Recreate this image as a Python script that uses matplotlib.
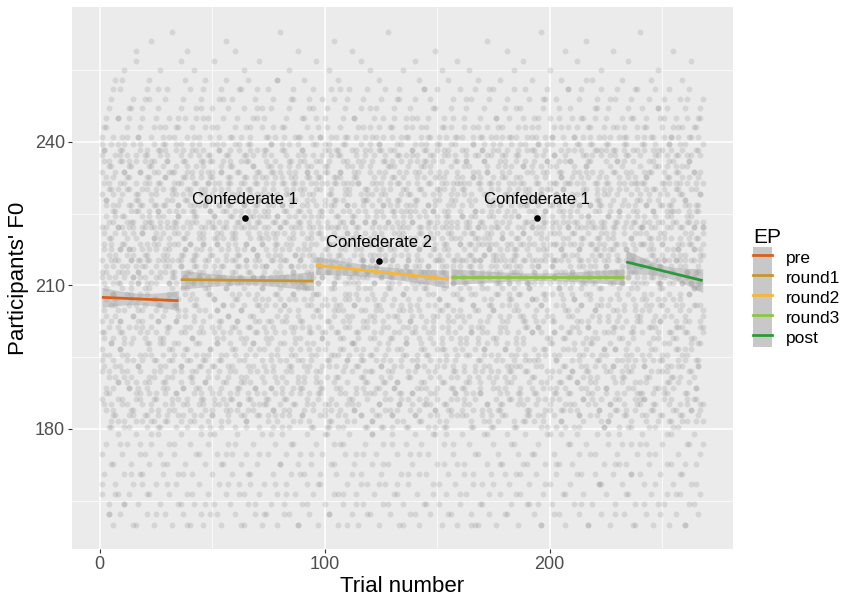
import numpy as np
import matplotlib
matplotlib.use("Agg")
import matplotlib.pyplot as plt
from matplotlib.lines import Line2D
from matplotlib.patches import Patch
from matplotlib.legend_handler import HandlerTuple

plt.rcParams['font.family'] = ['Liberation Sans', 'DejaVu Sans']

# per-trial F0 readings, one token per trial (trial 1, 2, 3, ...)
# digits -> 160-179 Hz, letters -> 180-240 Hz, symbols -> 241-263 Hz
LOW_KEYS = "0123456789"
MID_KEYS = "ABCDEFGHIJKLMNOPQRSTUVWXYZabcdefghijklmnopqrstuvwxyz"
HIGH_KEYS = "!@#$%^&*+=?~"
low_f0 = np.linspace(160, 179, len(LOW_KEYS))
mid_f0 = np.linspace(180.5, 239.5, len(MID_KEYS))
high_f0 = np.linspace(241, 263, len(HIGH_KEYS))

f0_group_a = [
    "qF3Tb!xMk7 Rw@jEy5Ng 8dUoZ#pHc Gv2sAl$Kr1 hP%eWi6Bz 0YnC^tDa!Q mL4uXf&Jb Sk9Ie#Vo3c",
    "Ox1gR^yTa Fq7Nd&mKw Jz5hB*sPu2 Ec!Ml8iY@r Wt3Ag#kHv Dn6Zo$Xe Uj0bQ%fCl4 Ip9Sx+wG=d",
    "Ha2Lq!cVn Kb5Ye@uFz8 Tr#Mj4gB$o Ck7Wd%sNx Pf1Rh^eAy Zl3Gm&tIv6 Nw8Ec!pS?a Bo0Xu@iJk",
    "Vg4Fr#bMq Am9Tn$hDy Qc2Kl*xWs7 Ie5Pv!oUj Gy1Bz%dL@t Rk6Hf^wCe Xi3Sg#aOn8 Jp0Mu~rEb",
    "Du7Nc!lYh Tz4Wa@kGq Fo2Vj#mPs5 Ks9Lx$eB+d Hn1Ci%yZf Ob6Uw&tRg Ml3Er=pA!v Sh8Jq^cXk0",
    "Ya5Qz@nIu Be2Gd*oTm Wy7Ks#fN$l Px4Hb!jVc Cr9Ft%gLa1 Ev0Ri^wMh Ik6Do@qZ&e Nu3Jp#sYb8",
    "Uf1Aw!xOn Gz5Sl$kCt Lc2Xm+dFr9 Qh7Vi@aPj Tb4Ey%oK!s Mq0Bg^vHu Rd6Wn#zIp Ze3Nk&fD?l",
    "Ja8Cx$rUo Fm2Ps!tGw Yi5Lb%cSv7 Oh1Ke@jA=n Dg9Tq#uXf Hl4Rz^yEd Vb0Ia!mQk6 Ct3Mo*pW$s",
    "Bw7Ne@hJx Gr2Dc&lYa Uk5Fq!zSi4 Pm8Lv#gEb Xn1Hd%oRt Ky6Wu$sC^f Aj3Tp+eOl Zq9Mi@bVh0",
    "Ic4Ex#nGy Rt1Kd!wQs Ff7Bo^kXm Hz2Na$vTe Lu5Sj%rD@p Wg8Ch!lJi Ob0Ym&qUa3 Ev6Pc~fMk",
    "Gs9Ao@tHz Dj2Rn!yWe Tl4Fb#xIq7 Cw1Vg$mL*u Np5Kh%dSo Ya8Ei^rBc Qk3Xf!sPt Mz0Jd=nUv6",
    "Hb7Oe!wGl Sy2Tj#qCa Ir5Dm&hZx Fo9Wc@uKp4 Bg1Ln$tR%f Xi6Av!dMs Pq3Uk^zEb Je8Nh+oY#w",
    "Vc0Gt@aSl Kn4Id!jHr5 Rf7Qx%bWm Dy2Cu#eOg Ms9Pk$iTv Aw1Ez*cLh Zo6Bq!nF^d Ut3Xj?sNa8",
    "Lp5Hm!yJe Cb0Ri&kVx Wg8Dt@fQu Ol2Ks#wAn3 Sh7Gz$cY!q Ed4Mv%oIj Nr9Ta^eXb Fm1Uy=lPs",
    "Bi6Wf#uDo Yk3Lc!hGt7 Qa0Xs@nRw Jz5Ce$vM+g He2Ob%pSd Vj8Ip!xKl Tq4Ar^mFc Gu1Ny*iZ@h",
    "Ds9Kw!eBo6 Xl3Qf#tUa Mc7Hd$rWn Pg0Ez@yC&k Rb5Vj%sLq Ao2Ti!wIm8 Ne4Yx^fGu Kh6Sc~lOp",
    "Fr1Zb@dJv Cn9Wa!kQe Ut3Lm#gH$y Is7Bo%xDc4 Ej0Rp^uVi Ow5Gz!hMf Yl2Nk*bSt Qd8Ax@nP#r",
    "Ke4Fv!cXs Wq1Ji$mTo7 Ga6Uh@yEl Sb9Cn%dR+z Hx3Mf#wLp Vk0Dg&rBu5 Pc8Oj!eIa Lt2Sv^qZn",
    "Zm5Ey@iHb Ao7Wk#lNd Jf1Qs!xC%u Rn4Tc$gYw3 Dh9Gb=oKp Uz6Le^aFj Mq2Xr!tVe Oi0Pw@kS*c",
    "Ex8Iy#nAh Ns3Bd!uMl9 Tg5Rm&fWo Cj1Hk@zD$q Yb7Va%eLr Kp4Oi!cGx Fw0Ul+sJt6 Sc2Zn^hQd",
    "Hm9Ct!oXe Lr6Ej@vK#b Qa3Gw$lPy Ik8Ns*dUf Bq1Yh%mRc We5Az!tDj4 Vn0Fp^xOg Mu7Sb@kJ&i",
    "Gl2Tr#eHs Dy4Kc!nZa Oz9Li$fBw Rx6Pu@hE?q Ub1Jg%oWm3 Cs5Xd!jNk Ap8Ve^yIt Ff0Qh#lM!c",
    "Ka7Bn@rYv Se3Do&cGz Ej6Wx!uTi Ht1Om$wCd5 Pq9Rk%gL=y Xb4Fs#aUl Nv2Ih!eKo Zc8Mf*pJ^n",
    "Ld5Qw!tAg Gm0Vy@iRx7 Yo3Uc$hFb Tk6Pj#sE+v Bz9Ne^lSq Wa2Ka!oDu Ci4Zr%fMh Ry7Hl&dX@k",
    "Jn1Gp#wOc Ex5Tb!jVm Mg8Sd@zCs2 Ir0Lq~aWe Oh3Yu$kB%l Fc6Xn!tNy Qw9Ai^gUp Dv4Jo#rH*f",
    "Ue2Kz!mPd Rb7Ch@xTj Hs5Ml%eGq6 Nk1Fa#wZ$o Yt9Bg&cIu Wl3Dr!hQn Ap0Vf=sLx Gi8Oe^yR@k",
    "Zd4Ew$bJm Ko6Uj#qSc Pv2Xy!lAh Tf9Ib@nD+s Cg1Ro%uMz7 Lk5Ha^eWt Ba3Nd!iF#q Ox8Yc?rKv",
    "Sm0Gl@jTe Iz7Pw!oCb Fh2Qk&xUa Ey5Vn#gL$d Ws9Jr%cHp Dt4Mi!fZo4 Xu1Bf*kN^y Ac6Oq@hRl",
    "Hj3Ks#dGw Ue8Tz$mBi Cv0Ex!rPn Ra5Lg@yJ=k Ob2Ic%lSu6 Yf7Dh^wVq Qn9Fm!eXt Mo4Sa#bK&c",
    "Gp1Wy@zEj Nl6Cu!gTr Kd3Hb$xM+o Bk8Zi%sAe5 Lw0Rf#nQh Is2Vc^tDl Tm7Op!aU@y Eq5Gx~jFd",
    "Vh9Nk$eCs Fz4Yl!bLm Xa1Jt@rI#o8 Pg6Ad%uSw Dc3Ku&hWi Mf0Qn!yGb Sr7Ee^kOv Hy2Bx*lR$p",
    "Cj5Tq#dZa Wo8Mh@cNf Ub2Hs!iX%e Ln6Gv$mKt3 Ie0Pa^wBz Rk9Fy!oJd Ag4Xc=nQ@l Ts1Wr#eDu",
    "Ox7Lb!gMh Ef3Ji%zYs Nq5Sk@aC&v Gd0Ue$pTo6 Bm8Rx#lFc Yw2Vt!hI^n Kj4Da+rOe Zu9Qg@bWk",
    "Fs6Mi@yHl Cc1Pn!oLd Wa3Tu#fE$q Rh8Bz%kSj",
]

f0_group_b = [
    "uKcRzOe4 LyhQaVs tDpXkGm@ bJwNiSf1 PvEgTrA oMdYlHq6 xCjUnWe3 zBaIrFk#",
    "gTsOwLp8 EkyZhRc! mQbVjAu2 NdfKxIt rHwCoSg$ YlPaeJv5 kUzMgDb iFqWsBn0",
    "XpeLcTa! oGyNuRh7 dVkSjEm5 wIbQfZl CtHrYxa3 nJsOgPe% qBlUvDk9 hMiFwKz",
    "aRoXdGj1 TuWnCes^ yLkPbAi@ fNzHmQr6 EgVtIoc lSwJxBp4 DhYdMua! kZcOqFe",
    "rPjKsWb8 vGnAyTl mUoCeXh@ 2IdRzLf qEwNkHt5 bYpSgVi# ZaFjOuc0 xMhBrDo",
    "eQlJtKy3 sCfWaUn! HgXmPvd oLbRiEz7 AkSuGwq$ jNcTyFh# pVdIoMr2 BxZeKls",
    "gOaHnYt9 wDqLfCu@ iRkEsXm JbPzVhe1 cMyGoSl uTjAdNr6 FkWwQbi% 7nZxIpE",
    "tLhUgBs4 aKoRyDv OeqFmWj! ScXikNz8 pHlTdGa MurEbYf3 wVnJsCq^ IgPoZkx0",
    "hBeAtQd zFwSjLn5 KyIrOcm@ UxgDvPb aNkHsTe2 qGfYlRo# CiEpWmu7 JdZbXht$",
    "mSrLaOk1 dWjEyFg PnTqCvi! zQbHuMx9 eKlAoDs YtGwRcf4 BhNmIpj& XuVkZde6",
    "oCyJgTb 1FsPlWa@ rMeUhKn3 DqXiAvz kLtOwGd8 HbRjYcs% fEmNpSu VgZaIxl0!",
    "nTkBeQr5 yHfCsMo JwLdXag# uZiPtEv2 SbOqGlk cNjRmWh7 AxYeDpf$ IrKuVsz",
    "dFmOaYj4 eGtUkCw! QsHbLni pRvXzEo9 WcAgJlu@ MyTqBfh1 rDkSeNx hVoIpZa%6",
    "kWbRsEt JmNcAyf3 uHxGdOl^ TpzQiVe8 gXaLrCk BsMjUow0! FnYhSqd ilEvKbP5",
    "PcDtWam# xRgOjHy2 EkLbZsu 4NfViqC oJwMeTd7@ ZyAlGrn hSbIcXp1 UdKfQzv$",
    "qYeNkBh9 GaTxRjl dOsVmCi! WuHpEzf4 LgJybAn rXcSoMt6# eIkFwDq PvZhUla2",
    "sMgDyQo CbAeKtw8@ HjRnXvf lOdIzUp3 TkExsGa% nFhWcLq YiBrVmj0 ZuPgNod!",
    "fAqSkJe5 VnDwTbc MhlGyRx# oKpZiCu1 eWtLsNa QjFgXdm7 BrHvUkz@ IcOyEhw^",
    "wNhTzFa2 RdYcKos! GlEjMvb iPxUqSn9 kAgWeDt$ OmCrHyl XfBuJzp4 sVaQdIe",
    "LtZgOcr6@ mEkWhAb DyUnSxj1 pJvFlQi HasKdTo8# zRbMeGw CuNfYkq! eXiPsVh3",
    "bOrDmUy TgFsHqa5 kNwIxCe% JhZlEpv AdSoRfj0 ucWbGzt@ YmKeLin7 QxVkPhs0",
    "IaMtGed! hCbRySl2 XkOwNfq uEjZpTv9 sLgBiDc^ WrKnAxh mQfVoHz4 PdYeJka#",
    "NyHkDsb aUgRwEo6 ZlCfMti@ qJxOvSe GbIpTnh1 dKrWaYu! FmXzLcj8 VesBqAg",
    "cPiNxWf3$ ErYaOkm tHdGsLz5 BjQvUeh wMoTbKr@ 6SlFgCy aZnDqIp2 XkJuRev!",
    "UhMcBya7 pGtLeXs NdSkzFo# jWiAqRv0 CbHxTgm OeYnDlf4% rKwIuVz sQaEjPh9",
    "TlFoYdk! GeRsNxb1 vAcMhWq IjKpZun6 yDgBtSe@ LmXfOir HzcQaEw3 kVbUsJl^",
    "RwDnGhs8 fYaKtMc bOuEjXp! SkqIlVz5 CeNgAdo ZiThWym2# JrFbPsx uLvHkQa&",
    "EmSbKwt0 dXoJhYc@ PfGzNlu aRsIkVe7 MgQyCiq$ TbUpDhn xWlFoZj4 OkAeLrg!",
    "ydNtHzb BqWsRmf9 KcXaEgo% VipLjSu hFkDyOx1 GeMlTcw@ nZrUbAs6 Qa8IvJd",
    "JhCsVwk! zOgDxLe3 YtAfPbm RqNiKuc5# lSeHyXa FdWoMjg0 EbZrGns^ IpUkTvh8",
    "kGaRzXd MyLhFsu2@ WoeCtBj NiqJpVl7 SdYbOkf! DrTnEgw AmHxUcz4 XvKeQia$",
    "aTbMdWo1 ClKsZhy PrFeGuj# IxNgVkq9 oEzRtYs UcBiLnm6! HwDpJfa QeSvOlx3",
    "rIgAuSn@ VkXdCqe5 LyBhWta zMfOjRp0 GsNcEvb% KoTiYlw8 DmQaPhx! FuJegZk2",
    "cWnHoBr4 ZtLaMiy# SgPxDqe7 EfVkUls",
]

# linear fits per experimental phase
phases = ["pre", "round1", "round2", "round3", "post"]
phase_colors = ["#d9601a", "#c9952c", "#f7b733", "#8cc63f", "#2a9a3c"]
phase_start = [1, 36, 96, 156, 234]
phase_end = [35, 95, 155, 233, 268]
fit_start = [207.5, 211.2, 214.2, 211.8, 214.9]
fit_end = [206.8, 210.9, 211.3, 211.8, 211.0]
ci_edge = [2.1, 2.0, 1.9, 1.7, 2.5]
ci_mid = [1.2, 0.95, 1.2, 0.8, 1.2]

# confederate reference values
conf_labels = ["Confederate 1", "Confederate 2", "Confederate 1"]
conf_trial = [64.5, 124, 194.5]
conf_f0 = [224.1, 215.1, 224.1]

lookup = {}
lookup.update(zip(LOW_KEYS, low_f0))
lookup.update(zip(MID_KEYS, mid_f0))
lookup.update(zip(HIGH_KEYS, high_f0))

trial, f0 = [], []
for group in (f0_group_a, f0_group_b):
    tokens = " ".join(group).split()
    for t, code in enumerate(tokens, start=1):
        for ch in code:
            trial.append(t)
            f0.append(lookup[ch])

fig = plt.figure(figsize=(8.56, 5.97), dpi=100)
ax = fig.add_axes([0.084, 0.080, 0.772, 0.908])
ax.set_facecolor("#ebebeb")

ax.scatter(trial, f0, s=18, color="#7f7f7f", alpha=0.2, linewidths=0, zorder=2)

for i in range(len(phases)):
    x = np.linspace(phase_start[i], phase_end[i], 100)
    y = fit_start[i] + (fit_end[i] - fit_start[i]) * (x - x[0]) / (x[-1] - x[0])
    xm = (x[0] + x[-1]) / 2
    half = (x[-1] - x[0]) / 2
    hw = np.sqrt(ci_mid[i] ** 2 + (ci_edge[i] ** 2 - ci_mid[i] ** 2) * ((x - xm) / half) ** 2)
    ax.fill_between(x, y - hw, y + hw, color="#999999", alpha=0.4, linewidth=0, zorder=3)
    ax.plot(x, y, color=phase_colors[i], lw=2.0, zorder=4, solid_capstyle="butt")

ax.scatter(conf_trial, conf_f0, s=14, color="black", zorder=5)
for lab, cx, cy in zip(conf_labels, conf_trial, conf_f0):
    ax.annotate(lab, (cx, cy), xytext=(0, 13), textcoords="offset points",
                ha="center", va="center", fontsize=12, zorder=6)

ax.margins(x=0.05, y=0.05)
ax.set_xticks([0, 100, 200])
ax.set_xticks([50, 150, 250], minor=True)
ax.set_yticks([180, 210, 240])
ax.set_yticks([165, 195, 225, 255], minor=True)
ax.grid(which="major", color="white", lw=1.1, zorder=1)
ax.grid(which="minor", color="white", lw=0.5, zorder=1)
ax.set_axisbelow(True)
for s in ax.spines.values():
    s.set_visible(False)
ax.tick_params(which="major", length=3, width=0.8, color="#333333",
               labelsize=13, labelcolor="#4d4d4d", pad=2)
ax.tick_params(which="minor", length=0)

ax.set_xlabel("Trial number", fontsize=16, labelpad=2)
ax.set_ylabel("Participants' F0", fontsize=16, labelpad=4)

handles = [(Patch(facecolor="#c8c8c8", edgecolor="none"),
            Line2D([], [], color=c, lw=2.0)) for c in phase_colors]
leg = fig.legend(handles, phases, loc="upper left", bbox_to_anchor=(0.872, 0.63),
                 frameon=False, fontsize=12.5, title="EP", title_fontsize=15,
                 handler_map={tuple: HandlerTuple(ndivide=1, pad=0)},
                 handlelength=1.1, handleheight=1.4, labelspacing=0,
                 handletextpad=0.8, borderaxespad=0)
leg._legend_box.align = "left"

fig.savefig("out.png", dpi=100)
